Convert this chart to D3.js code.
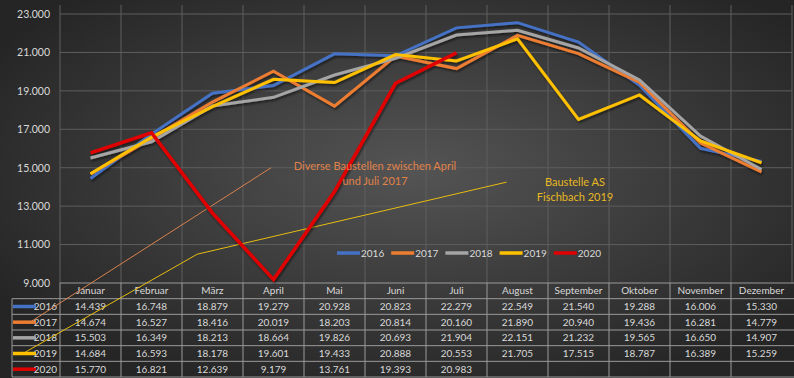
<!DOCTYPE html>
<html>
<head>
<meta charset="utf-8">
<script src="https://cdn.jsdelivr.net/npm/d3@7"></script>
<style>
  body { margin: 0; background: #2a2a2a; }
  svg { display: block; font-family: Lato, "Open Sans", sans-serif; }
</style>
</head>
<body>
<svg id="chart"></svg>
<script>
// Verkehrszahlen pro Monat
var months = ["Januar", "Februar", "März", "April", "Mai", "Juni", "Juli", "August", "September", "Oktober", "November", "Dezember"]
var years = ["2016", "2017", "2018", "2019", "2020"]
var v2016 = [14439, 16748, 18879, 19279, 20928, 20823, 22279, 22549, 21540, 19288, 16006, 15330]
var v2017 = [14674, 16527, 18416, 20019, 18203, 20814, 20160, 21890, 20940, 19436, 16281, 14779]
var v2018 = [15503, 16349, 18213, 18664, 19826, 20693, 21904, 22151, 21232, 19565, 16650, 14907]
var v2019 = [14684, 16593, 18178, 19601, 19433, 20888, 20553, 21705, 17515, 18787, 16389, 15259]
var v2020 = [15770, 16821, 12639, 9179, 13761, 19393, 20983]
var yTicks = [9000, 11000, 13000, 15000, 17000, 19000, 21000, 23000]
var colors = ["#4472C4", "#ED7D31", "#A5A5A5", "#FFC000", "#E00000"]

// callout lines (month index, value)
var call2017 = [[-1.02, 6900], [2.96, 15000]]
var call2019 = [[-1.07, 5400], [1.75, 10500], [6.82, 14250]]

var series = [v2016, v2017, v2018, v2019, v2020]

const W = 794, H = 378;
const margin = { top: 14, left: 60, right: 2, plotBottom: 283 };
const svg = d3.select("#chart").attr("width", W).attr("height", H);

const defs = svg.append("defs");
const grad = defs.append("radialGradient").attr("id", "bg")
  .attr("cx", "52%").attr("cy", "45%").attr("r", "62%");
grad.append("stop").attr("offset", "0%").attr("stop-color", "#545454");
grad.append("stop").attr("offset", "100%").attr("stop-color", "#252525");
const shadow = defs.append("filter").attr("id", "shadow")
  .attr("x", "-5%").attr("y", "-5%").attr("width", "110%").attr("height", "120%");
shadow.append("feDropShadow").attr("dx", 1).attr("dy", 2).attr("stdDeviation", 1.2)
  .attr("flood-color", "#000").attr("flood-opacity", 0.5);

svg.append("rect").attr("width", W).attr("height", H).attr("fill", "url(#bg)");

const x = d3.scaleBand().domain(months).range([margin.left, W - margin.right]);
const xi = d3.scaleLinear().domain([-0.5, 11.5]).range([margin.left, W - margin.right]);
const y = d3.scaleLinear().domain([9000, 23000]).range([margin.plotBottom, margin.top]);

const de = d3.formatLocale({ decimal: ",", thousands: ".", grouping: [3], currency: ["", "€"] });
const fmt = de.format(",.0f");

// gridlines
svg.append("g")
  .selectAll("line.h")
  .data(yTicks.slice(1))
  .join("line")
  .attr("x1", margin.left).attr("x2", W - margin.right)
  .attr("y1", d => y(d)).attr("y2", d => y(d))
  .attr("stroke", "#5e5e5e").attr("stroke-width", 1);

svg.append("g")
  .selectAll("line.v")
  .data(d3.range(13))
  .join("line")
  .attr("x1", d => xi(d - 0.5)).attr("x2", d => xi(d - 0.5))
  .attr("y1", 5).attr("y2", margin.plotBottom)
  .attr("stroke", "#5e5e5e").attr("stroke-width", 1);

// y axis labels
svg.append("g")
  .attr("transform", `translate(${margin.left - 10},0)`)
  .call(d3.axisLeft(y).tickValues(yTicks).tickSize(0).tickPadding(0).tickFormat(fmt))
  .call(g => g.select(".domain").remove())
  .selectAll("text")
  .attr("fill", "#d9d9d9")
  .style("font-family", "Lato, sans-serif")
  .style("font-size", "10.5px");

// table
const rowKeys = ["head"].concat(years);
const row = d3.scaleBand().domain(rowKeys).range([margin.plotBottom, 377]);
const table = svg.append("g");
const tableLine = "#9a9a9a";

table.append("line")
  .attr("x1", margin.left).attr("x2", W)
  .attr("y1", row("head")).attr("y2", row("head"))
  .attr("stroke", tableLine);
table.selectAll("line.row")
  .data(years)
  .join("line")
  .attr("x1", 12).attr("x2", W)
  .attr("y1", d => row(d)).attr("y2", d => row(d))
  .attr("stroke", tableLine);
table.append("line")
  .attr("x1", 12).attr("x2", W)
  .attr("y1", row("2020") + row.bandwidth()).attr("y2", row("2020") + row.bandwidth())
  .attr("stroke", tableLine);
table.selectAll("line.col")
  .data(d3.range(12))
  .join("line")
  .attr("x1", d => xi(d - 0.5)).attr("x2", d => xi(d - 0.5))
  .attr("y1", row("head")).attr("y2", 377)
  .attr("stroke", tableLine);
table.append("line")
  .attr("x1", 12).attr("x2", 12)
  .attr("y1", row("2016")).attr("y2", 377)
  .attr("stroke", tableLine);

table.selectAll("text.month")
  .data(months)
  .join("text")
  .attr("x", d => x(d) + x.bandwidth() / 2)
  .attr("y", row("head") + row.bandwidth() / 2)
  .attr("dy", "0.35em")
  .attr("text-anchor", "middle")
  .attr("fill", "#d9d9d9")
  .style("font-size", "10px")
  .text(d => d);

years.forEach(function (yr, k) {
  const cy = row(yr) + row.bandwidth() / 2;
  table.append("line")
    .attr("x1", 13).attr("x2", 36)
    .attr("y1", cy).attr("y2", cy)
    .attr("stroke", colors[k]).attr("stroke-width", 3.5);
  table.append("text")
    .attr("x", 57).attr("y", cy).attr("dy", "0.35em")
    .attr("text-anchor", "end")
    .attr("fill", "#d9d9d9")
    .style("font-size", "10px")
    .text(yr);
  table.selectAll("text.v" + yr)
    .data(series[k])
    .join("text")
    .attr("x", (d, i) => xi(i))
    .attr("y", cy).attr("dy", "0.35em")
    .attr("text-anchor", "middle")
    .attr("fill", "#d9d9d9")
    .style("font-size", "10px")
    .text(d => fmt(d));
});

// callout lines
const callLine = d3.line().x(d => xi(d[0])).y(d => y(d[1]));
svg.append("path").attr("d", callLine(call2017))
  .attr("fill", "none").attr("stroke", "#D9824E").attr("stroke-width", 1);
svg.append("path").attr("d", callLine(call2019))
  .attr("fill", "none").attr("stroke", "#E8BC10").attr("stroke-width", 1);

// series lines
const line = d3.line().x((d, i) => xi(i)).y(d => y(d));
svg.append("g").attr("filter", "url(#shadow)")
  .selectAll("path")
  .data(series)
  .join("path")
  .attr("d", d => line(d))
  .attr("fill", "none")
  .attr("stroke", (d, i) => colors[i])
  .attr("stroke-width", (d, i) => i == 4 ? 3.5 : 3)
  .attr("stroke-linejoin", "miter");

// annotations
svg.append("text")
  .attr("x", 375).attr("y", 170)
  .attr("text-anchor", "middle")
  .attr("fill", "#E0824A")
  .style("font-size", "11px")
  .selectAll("tspan")
  .data(["Diverse Baustellen zwischen April", "und Juli 2017"])
  .join("tspan")
  .attr("x", 375).attr("dy", (d, i) => i ? 15 : 0)
  .text(d => d);

svg.append("text")
  .attr("x", 575).attr("y", 186)
  .attr("text-anchor", "middle")
  .attr("fill", "#E8B820")
  .style("font-size", "11px")
  .selectAll("tspan")
  .data(["Baustelle AS", "Fischbach 2019"])
  .join("tspan")
  .attr("x", 575).attr("dy", (d, i) => i ? 14.5 : 0)
  .text(d => d);

// legend
const legend = svg.append("g").attr("transform", "translate(337,253)");
legend.selectAll("g")
  .data(years)
  .join("g")
  .attr("transform", (d, i) => `translate(${i * 54.2},0)`)
  .each(function (d, i) {
    const g = d3.select(this);
    g.append("line").attr("x1", 0).attr("x2", 23).attr("y1", 0).attr("y2", 0)
      .attr("stroke", colors[i]).attr("stroke-width", 3.5);
    g.append("text").attr("x", 24).attr("dy", "0.35em")
      .attr("fill", "#d9d9d9").style("font-size", "10px").text(d);
  });
</script>
</body>
</html>
